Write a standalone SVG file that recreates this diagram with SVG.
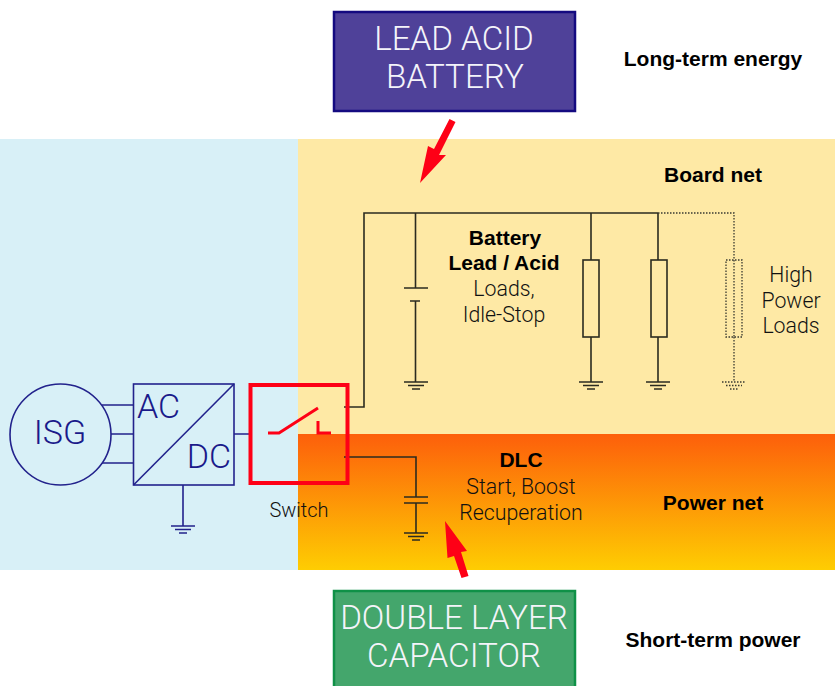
<svg xmlns="http://www.w3.org/2000/svg" width="835" height="686" viewBox="0 0 835 686">
<defs>
<linearGradient id="pw" x1="0" y1="0" x2="0" y2="1"><stop offset="0" stop-color="#fd5f0b"/><stop offset="1" stop-color="#fecd02"/></linearGradient>
<g id="gnd"><path d="M-12 0H12M-8 3.500H8M-4 7H4" fill="none"/></g>
</defs>
<style>
text{font-family:Roboto,"Liberation Sans",Arial,sans-serif;text-anchor:middle}
.t{font-size:21.300px;fill:#111;font-weight:300}
.b{font-family:"Liberation Sans",Arial,sans-serif;font-size:21px;font-weight:bold;fill:#000}
.big{font-size:33.200px;fill:#f4f4fa;font-weight:300}
.blue{font-size:34px;fill:#1a1a8a;font-weight:300}
.w{fill:none;stroke:#2b2b20;stroke-width:1.600}
.n{fill:none;stroke:#22228c;stroke-width:1.600}
.d{fill:none;stroke:#3a3a30;stroke-width:1.300;stroke-dasharray:1.500 1.500}
.r{fill:none;stroke:#fe0016}
</style>
<g id="regions">
<rect x="0" y="139" width="298" height="431" fill="#d8f0f7"/>
<rect x="298" y="139" width="537" height="295" fill="#fee9a5"/>
<rect x="298" y="434" width="537" height="136" fill="url(#pw)"/>
</g>
<g id="connectors">
<path class="w" d="M344 407H364V213H658"/>
<path class="w" d="M415.500 213V288M404 288H428M410 301H420M415.500 301V382"/>
<use href="#gnd" x="416" y="382" class="w"/>
<path class="w" d="M591 213V260M591 337V382M658 213V260M658 337V382"/>
<use href="#gnd" x="591" y="382" class="w"/>
<use href="#gnd" x="658" y="382" class="w"/>
<path class="w" d="M344 457H416V497M404 497H428M404 503H428M416 503V533"/>
<use href="#gnd" x="416" y="533" class="w"/>
<path class="d" d="M658 213H734V260M734 337V382"/>
<use href="#gnd" x="734" y="382" class="d"/>
<path class="n" d="M102 405H133M111 434H133M102 463H133M234 434H249M183 485V526"/>
<use href="#gnd" x="183" y="526" class="n"/>
</g>
<g id="isg"><circle cx="60.500" cy="434.500" r="50.500" class="n"/><text x="60" y="444" class="blue">ISG</text></g>
<g id="acdc"><rect x="133.500" y="384" width="100.500" height="101" class="n"/><path class="n" d="M133.500 485L234 384"/><text x="158.500" y="418" class="blue">AC</text><text x="209" y="468" class="blue">DC</text></g>
<g id="switch">
<rect x="250.500" y="385" width="97" height="98" class="r" stroke-width="4"/>
<path class="r" stroke-width="3" d="M268 433H279L318 408M318 421V433H331"/>
<text x="299" y="517" class="t" style="font-size:20px">Switch</text>
</g>
<g id="battery-symbol-label"><text x="505" y="245" class="b">Battery</text><text x="504" y="270" class="b">Lead / Acid</text><text x="504" y="296" class="t">Loads,</text><text x="504" y="322" class="t">Idle-Stop</text></g>
<g id="load1"><rect x="583" y="260" width="16" height="77" class="w"/></g>
<g id="load2"><rect x="651" y="260" width="16" height="77" class="w"/></g>
<g id="load3"><rect x="726" y="260" width="16" height="77" class="d"/><path class="d" d="M734 260V337"/><text x="791" y="282" class="t">High</text><text x="791" y="308" class="t">Power</text><text x="791" y="333" class="t">Loads</text></g>
<g id="dlc"><text x="521" y="467" class="b">DLC</text><text x="521" y="494" class="t">Start, Boost</text><text x="521" y="520" class="t">Recuperation</text></g>
<g id="lead-acid"><rect x="334" y="12" width="241" height="99" fill="#4f4199" stroke="#140a80" stroke-width="2.500"/><text x="454" y="50" class="big">LEAD ACID</text><text x="455" y="88" class="big">BATTERY</text></g>
<g id="capacitor"><rect x="334" y="591" width="241" height="100" fill="#44a66c" stroke="#0f9147" stroke-width="2.500"/><text x="454" y="629" class="big">DOUBLE LAYER</text><text x="454" y="667" class="big">CAPACITOR</text></g>
<g id="captions"><text x="713" y="66" class="b">Long-term energy</text><text x="713" y="182" class="b">Board net</text><text x="713" y="510" class="b">Power net</text><text x="713" y="647" class="b">Short-term power</text></g>
<g id="arrows" fill="#fe0016">
<path d="M449.500 119L455.500 122L439 155L446 155L420 183L428 146L434 149Z"/>
<path d="M461.500 578L468.500 576L461 552L467 551L445 521L447.500 558L454 556Z"/>
</g>
</svg>
